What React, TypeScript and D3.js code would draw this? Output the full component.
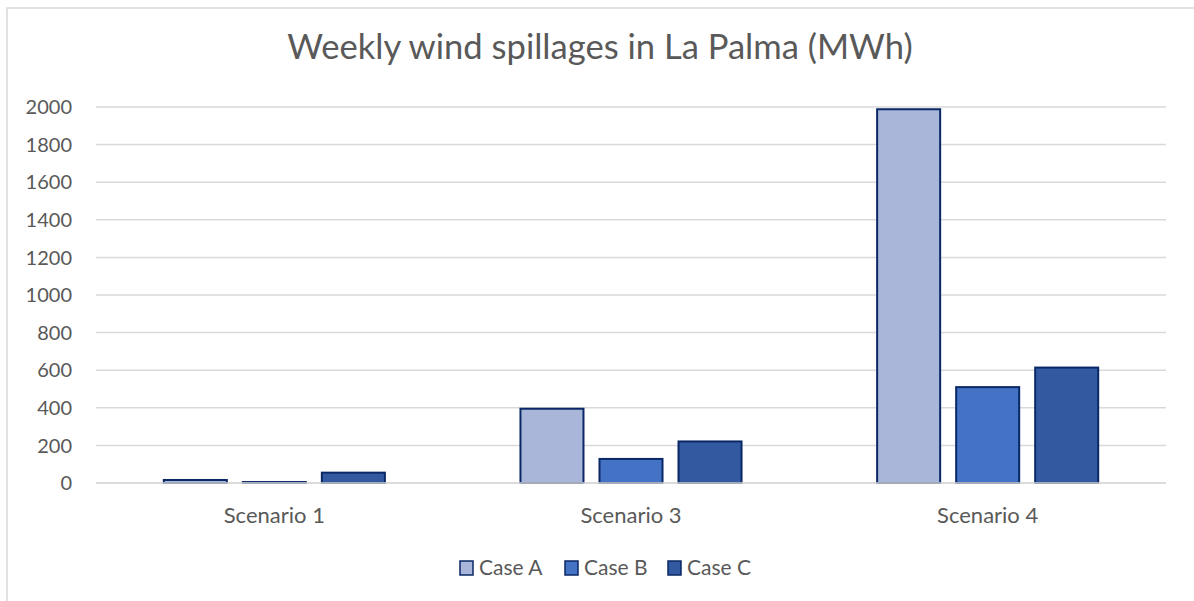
import React from "react";
import * as d3 from "d3";

const categories = ["Scenario 1", "Scenario 3", "Scenario 4"];
const seriesNames = ["Case A", "Case B", "Case C"];
const caseA = [16, 395, 1988];
const caseB = [5, 128, 510];
const caseC = [55, 221, 614];
const yTicks = [0, 200, 400, 600, 800, 1000, 1200, 1400, 1600, 1800, 2000];

const fills = ["#A9B6DA", "#4472C4", "#335AA1"];
const edge = "#0A2866";
const font = "Lato, 'Open Sans', sans-serif";

const W = 1194;
const H = 601;
const plot = { left: 96, right: 1166, top: 107, bottom: 483 };

export default function App() {
  const values = [caseA, caseB, caseC];

  const x = d3
    .scaleBand<string>()
    .domain(categories)
    .range([plot.left, plot.right])
    .paddingInner(0)
    .paddingOuter(0);

  // inner band for the three cases inside a category
  const xInner = d3
    .scaleBand<string>()
    .domain(seriesNames)
    .range([0, x.bandwidth()])
    .paddingInner(0.2025)
    .paddingOuter(0.858);

  const y = d3.scaleLinear().domain([0, 2000]).range([plot.bottom, plot.top]);

  const legendX = [460, 565, 668];

  return (
    <svg
      width={W}
      height={H}
      style={{ position: "absolute", left: 0, top: 0, background: "#fff" }}
    >
      <rect x={7} y={8} width={W + 20} height={H + 20} fill="#fff" stroke="#D9D9D9" strokeWidth={1.5} />
      <text
        x={600}
        y={59}
        textAnchor="middle"
        fontFamily={font}
        fontSize={34.6}
        fill="#595959"
      >
        Weekly wind spillages in La Palma (MWh)
      </text>

      {yTicks.map((t) => (
        <g key={t}>
          <line
            x1={plot.left}
            x2={plot.right}
            y1={y(t)}
            y2={y(t)}
            stroke="#D9D9D9"
            strokeWidth={1.5}
          />
          <text
            x={72}
            y={y(t)}
            dy="0.36em"
            textAnchor="end"
            fontFamily={font}
            fontSize={20}
            fill="#595959"
          >
            {t}
          </text>
        </g>
      ))}

      {categories.map((c, i) => (
        <g key={c}>
          {seriesNames.map((s, j) => {
            const v = values[j][i];
            const bx = (x(c) ?? 0) + (xInner(s) ?? 0);
            return (
              <rect
                key={s}
                x={bx}
                y={y(v)}
                width={xInner.bandwidth()}
                height={y(0) - y(v)}
                fill={fills[j]}
                stroke={edge}
                strokeWidth={2}
              />
            );
          })}
          <text
            x={(x(c) ?? 0) + x.bandwidth() / 2}
            y={523}
            textAnchor="middle"
            fontFamily={font}
            fontSize={22}
            fill="#595959"
          >
            {c}
          </text>
        </g>
      ))}

      <line x1={plot.left} x2={plot.right} y1={y(0)} y2={y(0)} stroke="#D9D9D9" strokeWidth={1.5} />

      {seriesNames.map((s, j) => {
        const lx = legendX[j];
        return (
          <g key={s}>
            <rect x={lx} y={561} width={13} height={14} fill={fills[j]} stroke={edge} strokeWidth={1.5} />
            <text x={lx + 19} y={575} fontFamily={font} fontSize={21} fill="#595959">
              {s}
            </text>
          </g>
        );
      })}
    </svg>
  );
}
